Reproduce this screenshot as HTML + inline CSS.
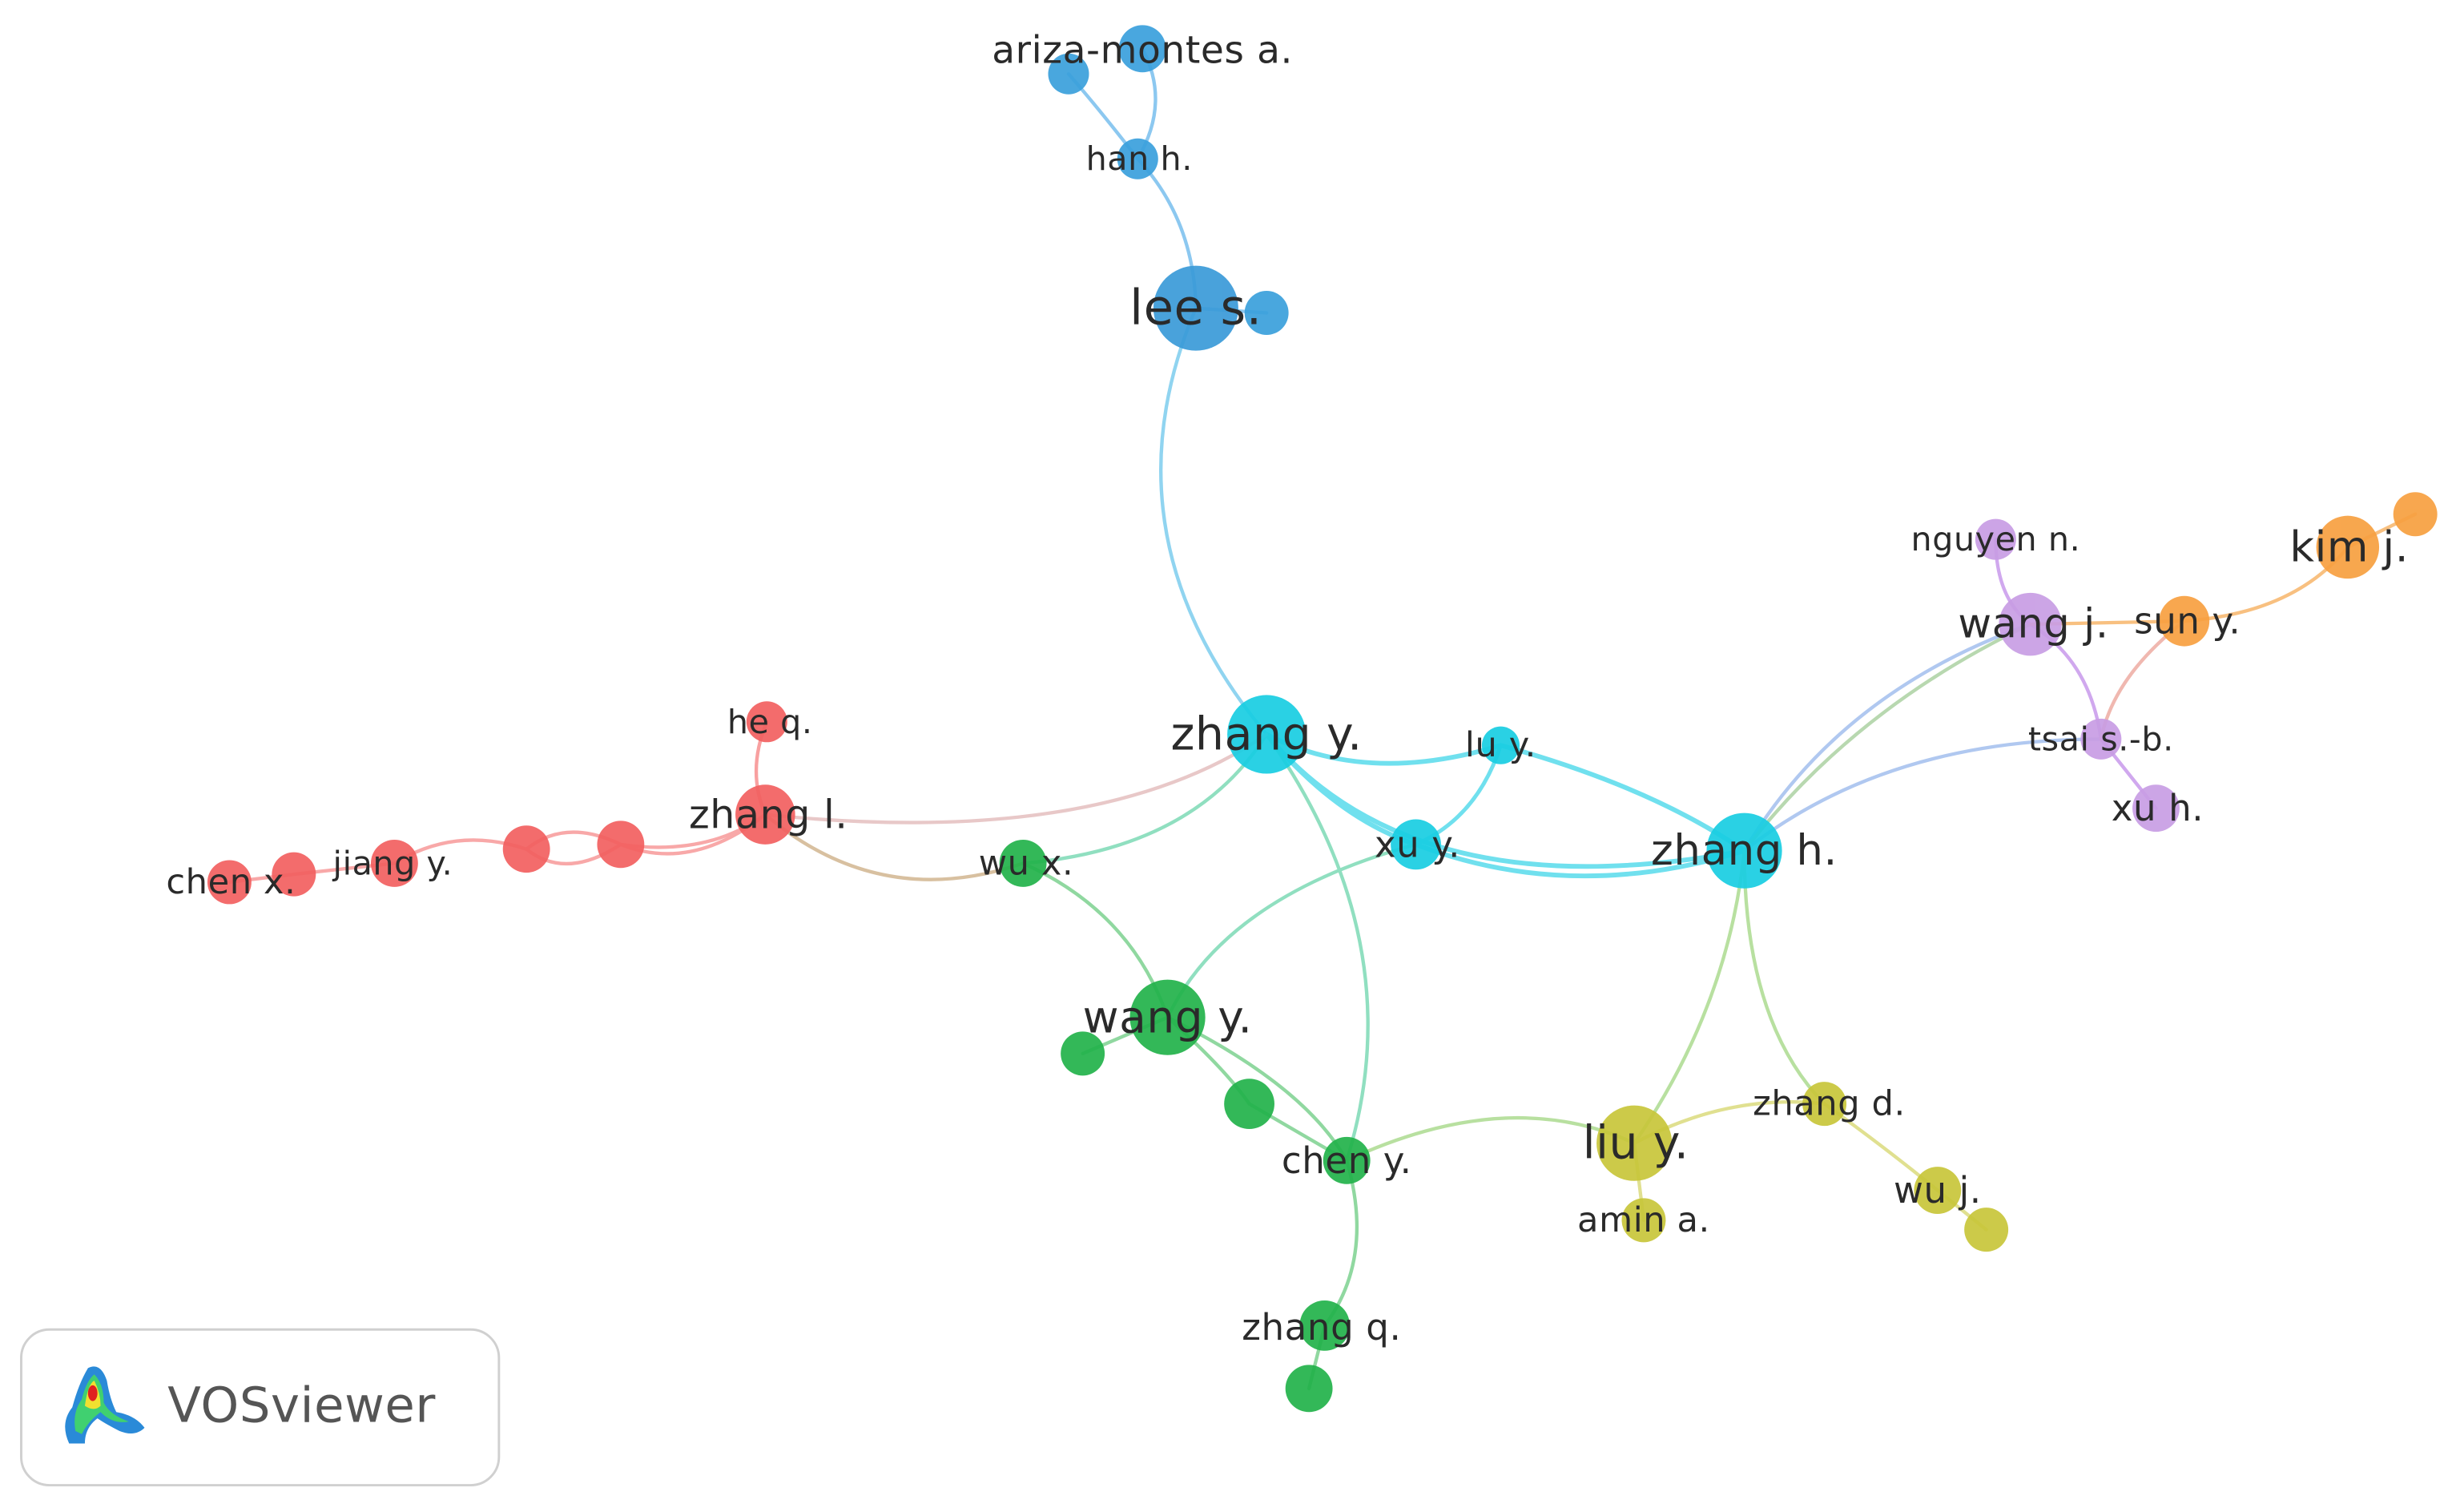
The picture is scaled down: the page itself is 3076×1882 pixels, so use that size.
<!DOCTYPE html>
<html><head><meta charset="utf-8"><style>
html,body{margin:0;padding:0;background:#fff;}
svg{display:block;}
text{font-family:"DejaVu Sans","Liberation Sans",sans-serif;fill:#2a2a2a;text-anchor:middle;dominant-baseline:central;letter-spacing:0.3px;}
</style></head><body>
<svg width="3076" height="1882" viewBox="0 0 1568 959" preserveAspectRatio="none" xmlns="http://www.w3.org/2000/svg">
<g fill="none" stroke-width="2.2" stroke-linecap="round">
<path d="M680 47 Q700 70 724 101" stroke="#8cc8f0"/>
<path d="M727 31 Q745 65 724 101" stroke="#8cc8f0"/>
<path d="M724 101 Q760 140 761 196" stroke="#8cc8f0"/>
<path d="M761 196 L806 199" stroke="#8cc8f0"/>
<path d="M761 196 Q700 340 806 467" stroke="#90d4f0"/>
<path d="M806 467 Q870 500 955 474" stroke="#70e0ee" stroke-width="3"/>
<path d="M955 474 Q940 520 901 537" stroke="#70e0ee" stroke-width="2.5"/>
<path d="M955 474 Q1050 500 1110 541" stroke="#70e0ee" stroke-width="3"/>
<path d="M806 467 Q850 520 901 537" stroke="#70e0ee" stroke-width="3"/>
<path d="M806 467 Q900 580 1110 541" stroke="#70e0ee" stroke-width="3"/>
<path d="M901 537 Q1000 575 1110 541" stroke="#70e0ee" stroke-width="3"/>
<path d="M806 467 Q900 600 857 738" stroke="#90dfc0"/>
<path d="M806 467 Q760 540 651 549" stroke="#90dfc0"/>
<path d="M806 467 Q700 540 487 518" stroke="#e8c8c8"/>
<path d="M901 537 Q780 570 743 647" stroke="#90dfc0"/>
<path d="M1110 541 Q1170 440 1292 397" stroke="#b0c8f0"/>
<path d="M1110 541 Q1180 450 1292 397" stroke="#b8d8b0"/>
<path d="M1110 541 Q1200 470 1337 470" stroke="#b0c8f0"/>
<path d="M1110 541 Q1100 640 1040 727" stroke="#b8e0a0"/>
<path d="M1110 541 Q1110 650 1161 702" stroke="#b8e0a0"/>
<path d="M1270 343 Q1270 380 1292 397" stroke="#d0a8ee"/>
<path d="M1292 397 Q1330 420 1337 470" stroke="#d0a8ee"/>
<path d="M1337 470 L1372 514" stroke="#d0a8ee"/>
<path d="M1292 397 L1390 395" stroke="#f8c080"/>
<path d="M1390 395 Q1345 430 1337 470" stroke="#f0b8b0"/>
<path d="M1390 395 Q1460 390 1494 348" stroke="#f8c080"/>
<path d="M1494 348 L1537 327" stroke="#f8c080"/>
<path d="M488 459 Q475 490 487 518" stroke="#f8a0a0"/>
<path d="M487 518 Q440 555 395 537 Q360 520 335 540" stroke="#f8a8a8"/>
<path d="M487 518 Q450 545 395 537 Q360 560 335 540" stroke="#f8a8a8"/>
<path d="M335 540 Q290 525 251 549" stroke="#f8a8a8"/>
<path d="M251 549 L187 556 L146 561" stroke="#f8a8a8"/>
<path d="M487 518 Q560 580 651 549" stroke="#d8c0a0"/>
<path d="M651 549 Q720 580 743 647" stroke="#90d8a0"/>
<path d="M743 647 L689 670" stroke="#90d8a0"/>
<path d="M743 647 Q780 680 795 702" stroke="#90d8a0"/>
<path d="M743 647 Q830 690 857 738" stroke="#90d8a0"/>
<path d="M795 702 L857 738" stroke="#90d8a0"/>
<path d="M857 738 Q960 690 1040 727" stroke="#b8e0a0"/>
<path d="M857 738 Q875 800 843 843" stroke="#90d8a0"/>
<path d="M843 843 L833 883" stroke="#90d8a0"/>
<path d="M1040 727 Q1100 695 1161 702" stroke="#e0e090"/>
<path d="M1040 727 L1046 776" stroke="#e0e090"/>
<path d="M1161 702 Q1200 730 1233 757" stroke="#e0e090"/>
<path d="M1233 757 L1264 782" stroke="#e0e090"/>
</g>
<g opacity="0.92">
<circle cx="680" cy="47" r="13" fill="#3aa0dc"/>
<circle cx="727" cy="31" r="15" fill="#3aa0dc"/>
<circle cx="724" cy="101" r="13" fill="#3aa0dc"/>
<circle cx="761" cy="196" r="27" fill="#3a9ad8"/>
<circle cx="806" cy="199" r="14" fill="#3aa0dc"/>
<circle cx="806" cy="467" r="25" fill="#18cde2"/>
<circle cx="955" cy="474" r="12" fill="#18cde2"/>
<circle cx="901" cy="537" r="16" fill="#18cde2"/>
<circle cx="1110" cy="541" r="24" fill="#18cde2"/>
<circle cx="1270" cy="343" r="13" fill="#c89de4"/>
<circle cx="1292" cy="397" r="20" fill="#c89de4"/>
<circle cx="1337" cy="470" r="13" fill="#c89de4"/>
<circle cx="1372" cy="514" r="15" fill="#c89de4"/>
<circle cx="1390" cy="395" r="16" fill="#f7a040"/>
<circle cx="1494" cy="348" r="20" fill="#f7a040"/>
<circle cx="1537" cy="327" r="14" fill="#f7a040"/>
<circle cx="488" cy="459" r="13" fill="#f26060"/>
<circle cx="487" cy="518" r="19" fill="#f26060"/>
<circle cx="395" cy="537" r="15" fill="#f26060"/>
<circle cx="335" cy="540" r="15" fill="#f26060"/>
<circle cx="251" cy="549" r="15" fill="#f26060"/>
<circle cx="187" cy="556" r="14" fill="#f26060"/>
<circle cx="146" cy="561" r="14" fill="#f26060"/>
<circle cx="651" cy="549" r="15" fill="#22b24a"/>
<circle cx="743" cy="647" r="24" fill="#22b24a"/>
<circle cx="689" cy="670" r="14" fill="#22b24a"/>
<circle cx="795" cy="702" r="16" fill="#22b24a"/>
<circle cx="857" cy="738" r="15" fill="#22b24a"/>
<circle cx="843" cy="843" r="16" fill="#22b24a"/>
<circle cx="833" cy="883" r="15" fill="#22b24a"/>
<circle cx="1040" cy="727" r="24" fill="#c8c63a"/>
<circle cx="1161" cy="702" r="14" fill="#c8c63a"/>
<circle cx="1046" cy="776" r="14" fill="#c8c63a"/>
<circle cx="1233" cy="757" r="15" fill="#c8c63a"/>
<circle cx="1264" cy="782" r="14" fill="#c8c63a"/>
</g>
<g>
<text x="727" y="32" font-size="24">ariza-montes a.</text>
<text x="725" y="101" font-size="21">han h.</text>
<text x="761" y="196" font-size="31">lee s.</text>
<text x="806" y="467" font-size="29">zhang y.</text>
<text x="955" y="474" font-size="22">lu y.</text>
<text x="902" y="537" font-size="23">xu y.</text>
<text x="1110" y="541" font-size="27">zhang h.</text>
<text x="1270" y="343" font-size="21">nguyen n.</text>
<text x="1294" y="397" font-size="26">wang j.</text>
<text x="1392" y="395" font-size="23">sun y.</text>
<text x="1495" y="348" font-size="27">kim j.</text>
<text x="1337" y="470" font-size="21">tsai s.-b.</text>
<text x="1373" y="514" font-size="23">xu h.</text>
<text x="490" y="459" font-size="21">he q.</text>
<text x="489" y="518" font-size="25">zhang l.</text>
<text x="250" y="549" font-size="21">jiang y.</text>
<text x="147" y="561" font-size="22">chen x.</text>
<text x="653" y="549" font-size="22">wu x.</text>
<text x="743" y="647" font-size="28">wang y.</text>
<text x="857" y="738" font-size="23">chen y.</text>
<text x="841" y="844" font-size="23">zhang q.</text>
<text x="1041" y="727" font-size="29">liu y.</text>
<text x="1164" y="702" font-size="22">zhang d.</text>
<text x="1046" y="776" font-size="22">amin a.</text>
<text x="1233" y="757" font-size="23">wu j.</text>
</g>
<rect x="13.5" y="845.5" width="304" height="99" rx="18" fill="#fff" stroke="#d0d0d0" stroke-width="1.5"/>
<g>
<path d="M44 918 Q38 905 46 895 Q50 880 56 870 Q64 866 68 878 Q70 890 74 898 Q86 900 92 908 Q86 914 76 910 Q68 906 62 902 Q54 908 54 918 Z" fill="#2a8ad8"/>
<path d="M48 910 Q46 898 52 890 Q55 878 60 874 Q66 880 66 892 Q70 900 82 904 Q72 906 64 898 Q56 904 52 912 Z" fill="#40d070"/>
<path d="M54 894 Q56 880 60 878 Q64 886 64 894 Q60 898 54 894 Z" fill="#f0e030"/>
<ellipse cx="59" cy="886" rx="3" ry="5" fill="#e02020"/>
</g>
<text x="192" y="894" font-size="31" style="fill:#555">VOSviewer</text>
</svg>
</body></html>
